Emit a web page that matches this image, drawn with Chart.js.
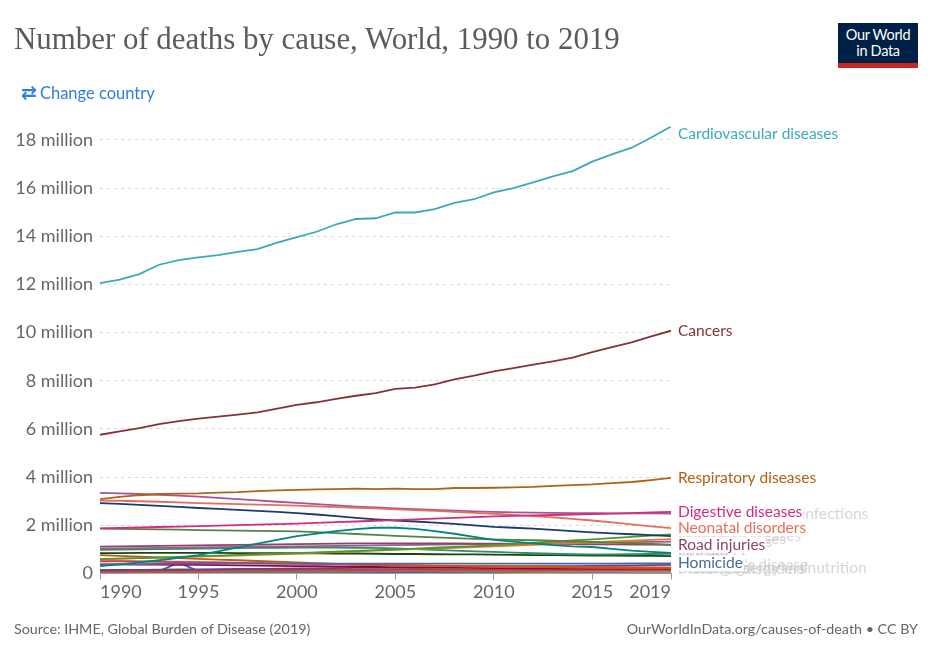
<!DOCTYPE html>
<html><head><meta charset="utf-8">
<script src="https://cdn.jsdelivr.net/npm/chart.js@4.4.1/dist/chart.umd.min.js"></script>
<style>
html,body{margin:0;padding:0;background:#fff;}
body{width:936px;height:652px;position:relative;overflow:hidden;font-family:Lato,sans-serif;}
#chart{position:absolute;left:0;top:0;}
#title{position:absolute;left:14px;top:21px;font-family:'Liberation Serif',serif;font-size:30px;color:#5b5b5b;white-space:nowrap;line-height:36px;z-index:2;}
#logo{position:absolute;left:838px;top:23px;width:80px;height:45px;box-sizing:border-box;background:#002147;border-bottom:5px solid #ce261e;color:#fff;font-size:14.5px;line-height:16px;text-align:center;padding-top:4px;z-index:2;letter-spacing:-0.3px;}
#change{position:absolute;left:21px;top:81px;font-size:16.5px;color:#2f7ed8;white-space:nowrap;z-index:2;line-height:22px;}
#change .ic{font-family:'DejaVu Sans',sans-serif;font-size:19px;font-weight:bold;margin-right:3px;}
.foot{position:absolute;top:620px;font-size:14.3px;color:#666;white-space:nowrap;z-index:2;line-height:18px;}
</style></head>
<body>
<canvas id="chart" width="936" height="652"></canvas>
<div id="title">Number of deaths by cause, World, 1990 to 2019</div>
<div id="logo">Our World<br>in Data</div>
<div id="change"><span class="ic">⇄</span>Change country</div>
<div class="foot" style="left:14px">Source: IHME, Global Burden of Disease (2019)</div>
<div class="foot" style="right:18px">OurWorldInData.org/causes-of-death • CC BY</div>
<script>
// ---- data (deaths, millions) ----
const years = [1990,1991,1992,1993,1994,1995,1996,1997,1998,1999,2000,2001,2002,2003,2004,2005,2006,2007,2008,2009,2010,2011,2012,2013,2014,2015,2016,2017,2018,2019];
const xTickYears = [1990,1995,2000,2005,2010,2015,2019];
const yTickValues = [0,2,4,6,8,10,12,14,16,18];

const cardiovascular = [12.06,12.2,12.43,12.82,13.01,13.13,13.22,13.35,13.47,13.74,13.97,14.19,14.5,14.72,14.75,14.99,14.99,15.13,15.39,15.54,15.82,16.0,16.24,16.49,16.71,17.1,17.4,17.68,18.1,18.56];
const cancers = [5.76,5.9,6.04,6.2,6.33,6.43,6.51,6.6,6.69,6.85,7.0,7.11,7.25,7.38,7.49,7.67,7.72,7.85,8.06,8.22,8.39,8.53,8.67,8.81,8.96,9.19,9.4,9.6,9.85,10.08];
const respiratory = [3.09,3.18,3.25,3.3,3.32,3.33,3.36,3.38,3.42,3.45,3.47,3.49,3.5,3.52,3.5,3.52,3.5,3.5,3.55,3.55,3.56,3.58,3.6,3.64,3.67,3.7,3.75,3.8,3.88,3.97];
const lowerRespInfections = [3.35,3.33,3.3,3.27,3.23,3.19,3.14,3.09,3.04,2.98,2.93,2.88,2.83,2.78,2.74,2.7,2.67,2.64,2.61,2.58,2.56,2.54,2.53,2.52,2.51,2.51,2.5,2.5,2.5,2.49];
const neonatal = [3.03,3.02,3.0,2.98,2.95,2.92,2.9,2.88,2.86,2.84,2.82,2.79,2.76,2.73,2.7,2.66,2.63,2.6,2.56,2.52,2.48,2.43,2.38,2.33,2.27,2.2,2.12,2.04,1.96,1.88];
const digestive = [1.87,1.89,1.91,1.93,1.95,1.97,1.99,2.01,2.03,2.05,2.07,2.1,2.13,2.16,2.19,2.22,2.25,2.28,2.31,2.34,2.37,2.39,2.41,2.43,2.45,2.47,2.49,2.51,2.54,2.56];
const diarrheal = [2.92,2.89,2.85,2.81,2.77,2.72,2.68,2.64,2.6,2.56,2.51,2.45,2.38,2.31,2.25,2.2,2.16,2.11,2.06,2.0,1.94,1.9,1.86,1.81,1.76,1.71,1.67,1.63,1.59,1.55];
const tuberculosis = [1.86,1.85,1.84,1.83,1.82,1.8,1.79,1.78,1.77,1.76,1.75,1.72,1.68,1.64,1.6,1.56,1.53,1.5,1.47,1.44,1.42,1.4,1.38,1.36,1.33,1.31,1.28,1.25,1.23,1.2];
const hivAids = [0.31,0.38,0.46,0.55,0.65,0.76,0.92,1.08,1.24,1.4,1.55,1.66,1.76,1.84,1.9,1.9,1.85,1.76,1.65,1.52,1.4,1.32,1.25,1.18,1.13,1.1,1.02,0.95,0.9,0.86];
const roadInjuries = [1.12,1.13,1.14,1.15,1.16,1.17,1.18,1.19,1.2,1.21,1.22,1.23,1.24,1.25,1.25,1.25,1.25,1.25,1.25,1.24,1.24,1.23,1.23,1.22,1.22,1.21,1.21,1.2,1.2,1.19];
const liver = [1.03,1.04,1.05,1.06,1.07,1.08,1.09,1.1,1.11,1.12,1.13,1.14,1.15,1.16,1.17,1.18,1.19,1.2,1.21,1.22,1.23,1.24,1.25,1.26,1.27,1.28,1.29,1.3,1.31,1.32];
const dementia = [0.6,0.62,0.64,0.66,0.69,0.72,0.74,0.77,0.8,0.82,0.85,0.88,0.91,0.94,0.97,1.0,1.03,1.07,1.1,1.14,1.18,1.22,1.27,1.32,1.37,1.42,1.47,1.52,1.57,1.62];
const kidney = [0.6,0.62,0.64,0.66,0.68,0.7,0.72,0.74,0.77,0.8,0.83,0.86,0.89,0.92,0.95,0.98,1.01,1.04,1.07,1.1,1.13,1.16,1.19,1.22,1.25,1.29,1.33,1.36,1.4,1.43];
const malaria = [0.98,0.99,1.0,1.01,1.02,1.03,1.04,1.05,1.06,1.07,1.08,1.08,1.08,1.07,1.06,1.04,1.01,0.98,0.95,0.92,0.9,0.87,0.84,0.82,0.8,0.79,0.79,0.8,0.81,0.82];
const suicide = [0.85,0.85,0.86,0.86,0.86,0.86,0.86,0.85,0.85,0.85,0.84,0.84,0.83,0.83,0.82,0.81,0.81,0.8,0.79,0.79,0.78,0.77,0.76,0.76,0.75,0.74,0.74,0.73,0.73,0.72];
const malnutrition = [0.76,0.73,0.7,0.67,0.64,0.61,0.58,0.55,0.52,0.49,0.46,0.43,0.4,0.37,0.35,0.34,0.33,0.32,0.31,0.3,0.29,0.28,0.28,0.27,0.26,0.25,0.25,0.24,0.24,0.23];
const homicide = [0.37,0.38,0.39,0.4,0.41,0.41,0.42,0.42,0.41,0.41,0.41,0.41,0.41,0.41,0.41,0.41,0.41,0.41,0.41,0.41,0.41,0.41,0.41,0.41,0.41,0.41,0.41,0.42,0.42,0.42];
const conflict = [0.1,0.12,0.11,0.1,0.45,0.1,0.09,0.08,0.09,0.08,0.07,0.06,0.05,0.05,0.05,0.04,0.05,0.05,0.04,0.04,0.04,0.05,0.06,0.08,0.1,0.08,0.07,0.06,0.05,0.04];
const meningitis = [0.5,0.5,0.49,0.48,0.47,0.46,0.45,0.44,0.43,0.42,0.41,0.4,0.39,0.37,0.36,0.35,0.34,0.33,0.32,0.31,0.3,0.29,0.28,0.28,0.27,0.26,0.26,0.25,0.24,0.24];
const drowning = [0.53,0.52,0.51,0.5,0.49,0.48,0.47,0.45,0.44,0.42,0.41,0.39,0.38,0.37,0.35,0.34,0.33,0.32,0.31,0.3,0.29,0.28,0.28,0.27,0.26,0.26,0.25,0.25,0.24,0.24];
const maternal = [0.38,0.38,0.37,0.37,0.36,0.36,0.35,0.34,0.33,0.32,0.31,0.3,0.29,0.28,0.27,0.26,0.25,0.25,0.24,0.23,0.22,0.22,0.21,0.21,0.2,0.2,0.2,0.2,0.2,0.2];
const parkinsons = [0.14,0.15,0.15,0.16,0.17,0.17,0.18,0.19,0.19,0.2,0.21,0.21,0.22,0.23,0.23,0.24,0.25,0.26,0.26,0.27,0.28,0.29,0.3,0.3,0.31,0.32,0.33,0.34,0.35,0.36];
const alcohol = [0.12,0.12,0.13,0.13,0.14,0.14,0.14,0.15,0.15,0.15,0.15,0.16,0.16,0.16,0.16,0.17,0.17,0.17,0.17,0.17,0.17,0.17,0.17,0.17,0.17,0.17,0.17,0.17,0.17,0.17];
const drugUse = [0.05,0.05,0.06,0.06,0.07,0.07,0.08,0.08,0.08,0.09,0.09,0.09,0.09,0.1,0.1,0.1,0.1,0.1,0.11,0.11,0.11,0.11,0.11,0.12,0.12,0.12,0.12,0.13,0.13,0.13];
const hepatitis = [0.15,0.15,0.15,0.14,0.14,0.14,0.13,0.13,0.13,0.12,0.12,0.12,0.11,0.11,0.11,0.1,0.1,0.1,0.09,0.09,0.09,0.09,0.08,0.08,0.08,0.08,0.08,0.07,0.07,0.07];
const fire = [0.12,0.12,0.12,0.12,0.12,0.12,0.12,0.12,0.12,0.12,0.12,0.12,0.12,0.12,0.12,0.12,0.12,0.12,0.12,0.12,0.12,0.12,0.12,0.12,0.11,0.11,0.11,0.11,0.11,0.11];
const poisonings = [0.1,0.1,0.1,0.1,0.1,0.1,0.1,0.1,0.1,0.09,0.09,0.09,0.09,0.09,0.09,0.09,0.09,0.09,0.09,0.09,0.08,0.08,0.08,0.08,0.08,0.08,0.08,0.08,0.08,0.08];
const heatCold = [0.08,0.08,0.08,0.08,0.07,0.07,0.07,0.07,0.07,0.07,0.07,0.07,0.07,0.07,0.06,0.06,0.06,0.06,0.06,0.06,0.06,0.06,0.06,0.06,0.05,0.05,0.05,0.05,0.05,0.05];
const naturalDisasters = [0.03,0.05,0.02,0.02,0.01,0.02,0.01,0.01,0.02,0.03,0.01,0.03,0.01,0.03,0.05,0.03,0.02,0.02,0.04,0.01,0.05,0.03,0.01,0.02,0.01,0.02,0.01,0.01,0.01,0.01];

// name, values, colour, label mode ('main' coloured label, 'grey' faded label, '' none)
const series = [
  ['Cardiovascular diseases', cardiovascular, '#38aaba', 'main'],
  ['Cancers', cancers, '#883039', 'main'],
  ['Respiratory diseases', respiratory, '#b16214', 'main'],
  ['Digestive diseases', digestive, '#d42d7e', 'main'],
  ['Neonatal disorders', neonatal, '#e56e5a', 'main'],
  ['Lower respiratory infections', lowerRespInfections, '#a2559c', 'grey'],
  ['Diarrheal diseases', diarrheal, '#1d3a6e', 'grey'],
  ['HIV/AIDS', hivAids, '#00847e', 'grey'],
  ['Tuberculosis', tuberculosis, '#578145', 'grey'],
  ['Dementia', dementia, '#4c9a2a', 'grey'],
  ['Kidney diseases', kidney, '#e07a2f', 'grey'],
  ['Road injuries', roadInjuries, '#8c4569', 'main'],
  ['Liver diseases', liver, '#9a5b8f', 'grey'],
  ['Malaria', malaria, '#2a8f6a', 'grey'],
  ['Suicide', suicide, '#18470f', 'grey'],
  ['Homicide', homicide, '#4c6a9c', 'main'],
  ['Protein-energy malnutrition', malnutrition, '#c05917', 'grey'],
  ['Meningitis', meningitis, '#d73c50', 'grey'],
  ['Drowning', drowning, '#e8788a', 'grey'],
  ['Maternal disorders', maternal, '#970046', 'grey'],
  ["Parkinson's disease", parkinsons, '#6d3e91', 'grey'],
  ['Alcohol use disorders', alcohol, '#9a5129', ''],
  ['Drug use disorders', drugUse, '#c15065', ''],
  ['Acute hepatitis', hepatitis, '#bc8e5a', ''],
  ['Fire', fire, '#b13d3d', ''],
  ['Poisonings', poisonings, '#996d39', ''],
  ['Heat and cold exposure', heatCold, '#286bbb', ''],
  ['Natural disasters', naturalDisasters, '#a9d18e', ''],
  ['Conflict and terrorism', conflict, '#3360a9', '']
];

// fit title width
(function(){
  const t = document.getElementById('title');
  const target = 606;
  let fs = 30; t.style.fontSize = fs + 'px';
  fs = fs * target / t.getBoundingClientRect().width;
  t.style.fontSize = fs.toFixed(2) + 'px';
})();

const endLabels = {
  id: 'endLabels',
  afterDatasetsDraw(chart) {
    const ctx = chart.ctx, ys = chart.scales.y, a = chart.chartArea;
    ctx.save();
    ctx.font = '15.5px Lato';
    ctx.textBaseline = 'middle';
    ctx.textAlign = 'left';
    const x = a.right + 7;
    const posY = v => Math.max(ys.getPixelForValue(v), a.top + 7.5);
    series.filter(s => s[3] === 'grey').forEach(s => {
      ctx.fillStyle = 'rgba(200,200,200,0.75)';
      ctx.fillText(s[0], x, posY(s[1][s[1].length - 1]));
    });
    series.filter(s => s[3] === 'main').forEach(s => {
      const y = posY(s[1][s[1].length - 1]);
      const w = ctx.measureText(s[0]).width;
      ctx.fillStyle = '#fff';
      ctx.fillRect(x - 1, y - 8, w + 2, 16);
      ctx.fillStyle = s[2];
      ctx.fillText(s[0], x, y);
    });
    ctx.restore();
  }
};

new Chart(document.getElementById('chart'), {
  type: 'line',
  data: {
    datasets: series.map(s => ({
      label: s[0],
      data: years.map((yr, i) => ({ x: yr, y: s[1][i] })),
      borderColor: s[2],
      backgroundColor: s[2],
      borderWidth: 1.8,
      pointRadius: 0,
      tension: 0,
      fill: false
    }))
  },
  options: {
    responsive: false,
    animation: false,
    devicePixelRatio: 1,
    layout: { padding: { left: 0, top: 126.5, right: 265, bottom: 0 } },
    plugins: { legend: { display: false }, tooltip: { enabled: false } },
    scales: {
      x: {
        type: 'linear', min: 1990, max: 2019,
        afterBuildTicks: s => { s.ticks = xTickYears.map(v => ({ value: v })); },
        afterFit: s => { s.height = 652 - 573.5; },
        ticks: { callback: v => String(v), align: 'inner', autoSkip: false, maxRotation: 0,
                 font: { family: 'Lato', size: 18 }, color: '#666', padding: 2 },
        grid: { drawOnChartArea: false, drawTicks: true, tickLength: 6, color: '#999' },
        border: { display: true, color: '#999' }
      },
      y: {
        min: 0, max: 18.56,
        afterBuildTicks: s => { s.ticks = yTickValues.map(v => ({ value: v })); },
        afterFit: s => { s.width = 100; },
        ticks: { callback: v => v === 0 ? '0' : v + ' million', font: { family: 'Lato', size: 18 },
                 color: '#666', padding: 7 },
        grid: { drawTicks: false, color: '#d6d6d6', lineWidth: 1, borderDash: [3, 4] },
        border: { display: false, dash: [3, 4] }
      }
    }
  },
  plugins: [endLabels]
});
</script>
</body></html>
